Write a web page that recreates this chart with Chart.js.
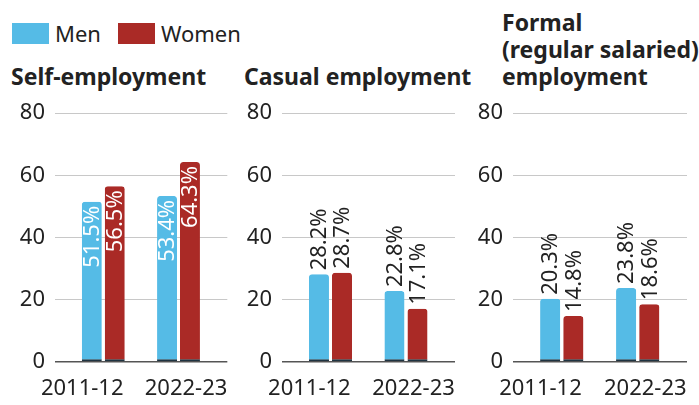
<!DOCTYPE html>
<html>
<head>
<meta charset="utf-8">
<script src="https://cdn.jsdelivr.net/npm/chart.js@4.4.1/dist/chart.umd.min.js"></script>
<style>
  body { margin: 0; width: 699px; height: 405px; background: #fff; font-family: "Noto Sans", sans-serif; color: #222; overflow: hidden; position: relative; }
  .legend { position: absolute; left: 12px; top: 18px; font-size: 22px; display: flex; align-items: center; }
  .legend span.sw { display: inline-block; width: 37px; height: 21px; margin-right: 6px; }
  .legend span.lab { margin-right: 17px; }
  .title { position: absolute; font-weight: bold; font-size: 23px; line-height: 27px; white-space: nowrap; }
  .panel { position: absolute; top: 90px; height: 315px; }
</style>
</head>
<body>
<div class="legend" id="legend"></div>
<div class="title" style="left:11px; top:63px;">Self-employment</div>
<div class="title" style="left:244px; top:63px;">Casual employment</div>
<div class="title" style="left:502px; top:9px;">Formal<br>(regular salaried)<br>employment</div>

<div class="panel" style="left:0px; width:235px;"><canvas id="c1"></canvas></div>
<div class="panel" style="left:235px; width:230px;"><canvas id="c2"></canvas></div>
<div class="panel" style="left:470px; width:229px;"><canvas id="c3"></canvas></div>

<script>
const periods = ["2011-12", "2022-23"];
const seriesNames = ["Men", "Women"];
const seriesColors = ["#55bbe6", "#aa2a26"];

const selfMen = [51.5, 53.4];
const selfWomen = [56.5, 64.3];
const casualMen = [28.2, 22.8];
const casualWomen = [28.7, 17.1];
const formalMen = [20.3, 23.8];
const formalWomen = [14.8, 18.6];

const yTicks = [0, 20, 40, 60, 80];

// legend
const legendEl = document.getElementById("legend");
seriesNames.forEach(function (name, i) {
    legendEl.innerHTML += '<span class="sw" style="background:' + seriesColors[i] + '"></span><span class="lab">' + name + '</span>';
});

// rotated value labels, inside the bar or above it
const barLabels = {
    id: "barLabels",
    afterDatasetsDraw(chart, args, opts) {
        const ctx = chart.ctx;
        ctx.save();
        ctx.font = "22px 'Noto Sans'";
        ctx.textBaseline = "middle";
        chart.data.datasets.forEach(function (ds, di) {
            chart.getDatasetMeta(di).data.forEach(function (bar, i) {
                const txt = ds.data[i].y.toFixed(1) + "%";
                ctx.save();
                ctx.translate(bar.x, bar.y);
                ctx.rotate(-Math.PI / 2);
                if (opts.inside) {
                    ctx.fillStyle = "#fff";
                    ctx.textAlign = "right";
                    ctx.fillText(txt, -4, 1);
                } else {
                    ctx.fillStyle = "#222";
                    ctx.textAlign = "left";
                    ctx.fillText(txt, 4, 1);
                }
                ctx.restore();
            });
        });
        ctx.restore();
    }
};

// the period labels sit a little spread out from the bar pairs
const labelNudge = [-0.28, 0.1];

function makeChart(id, men, women, yWidth, padRight, inside) {
    const values = [men, women];
    new Chart(document.getElementById(id), {
        type: "bar",
        data: {
            datasets: seriesNames.map(function (name, s) {
                return {
                    label: name,
                    data: periods.map(function (p, i) { return { x: i + 1, y: values[s][i] }; }),
                    backgroundColor: seriesColors[s],
                    borderColor: "#1f3442",
                    borderWidth: { top: 0, left: 0, right: 0, bottom: 2 },
                    borderSkipped: false,
                    borderRadius: { topLeft: 3, topRight: 3 },
                    categoryPercentage: 0.61,
                    barPercentage: 0.87
                };
            })
        },
        options: {
            responsive: true,
            maintainAspectRatio: false,
            animation: false,
            layout: { padding: { top: 14, right: padRight, left: 0, bottom: 0 } },
            plugins: {
                legend: { display: false },
                tooltip: { enabled: false },
                barLabels: { inside: inside }
            },
            scales: {
                x: {
                    type: "linear",
                    offset: false,
                    bounds: "data",
                    min: 0.358,
                    max: 2.649,
                    afterBuildTicks: function (scale) {
                        scale.ticks = periods.map(function (p, i) { return { value: i + 1 + labelNudge[i] }; });
                    },
                    afterFit: function (scale) { scale.height = 43; },
                    ticks: {
                        callback: function (v, i) { return periods[i]; },
                        color: "#222",
                        font: { family: "Noto Sans", size: 22 },
                        padding: 6,
                        maxRotation: 0,
                        autoSkip: false
                    },
                    grid: { display: false },
                    border: { display: false }
                },
                y: {
                    min: 0,
                    max: 80,
                    afterBuildTicks: function (scale) {
                        scale.ticks = yTicks.map(function (v) { return { value: v }; });
                    },
                    afterFit: function (scale) { scale.width = yWidth; },
                    ticks: {
                        color: "#222",
                        font: { family: "Noto Sans", size: 22 },
                        padding: 10
                    },
                    grid: {
                        drawTicks: false,
                        color: function (c) { return c.tick && c.tick.value === 0 ? "#555" : "#c8c8c8"; },
                        lineWidth: function (c) { return c.tick && c.tick.value === 0 ? 1.5 : 1; }
                    },
                    border: { display: false }
                }
            }
        },
        plugins: [barLabels]
    });
}

makeChart("c1", selfMen, selfWomen, 55, 7, true);
makeChart("c2", casualMen, casualWomen, 47, 10, false);
makeChart("c3", formalMen, formalWomen, 43, 12, false);
</script>
</body>
</html>
